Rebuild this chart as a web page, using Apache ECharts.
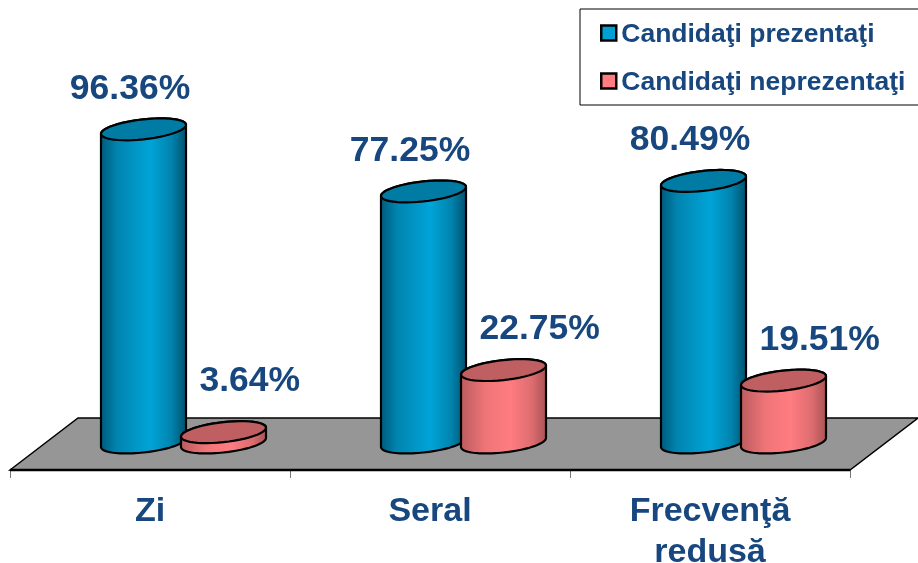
<!DOCTYPE html>
<html><head><meta charset="utf-8">
<style>html,body{margin:0;padding:0;background:#fff}#c{width:918px;height:563px}</style>
<script src="https://cdn.jsdelivr.net/npm/echarts@6/dist/echarts.min.js"></script>
</head><body><div id="c"></div>
<script>
const categories = ['Zi', 'Seral', 'Frecvenţă\nredusă'];
const prezentati = [96.36, 77.25, 80.49];
const neprezentati = [3.64, 22.75, 19.51];
const seriesNames = ['Candidaţi prezentaţi', 'Candidaţi neprezentaţi'];

const FONT = '"Liberation Sans", Arial, sans-serif';
const TEXT = '#17477e';
const A = 42.5, B = 10, K = 4.5;

function ellipsePts(cx, cy, from, to) {
  const pts = [], n = 48;
  for (let i = 0; i <= n; i++) {
    const t = from + (to - from) * i / n;
    pts.push([cx + A * Math.cos(t), cy + B * Math.sin(t) - K * Math.cos(t)]);
  }
  return pts;
}
function grad(stops) {
  return new echarts.graphic.LinearGradient(0, 0, 1, 0, stops);
}
function cylinder(offset, lift, palette, labelFn) {
  return function (params, api) {
    const idx = api.value(0), v = api.value(1);
    const top = api.coord([idx, v]), base = api.coord([idx, 0]);
    const cx = top[0] + offset;
    const yTop = top[1] + lift;
    const cyT = yTop - K, cyB = base[1] - K;
    const body = ellipsePts(cx, cyB, 0, Math.PI).concat(ellipsePts(cx, cyT, Math.PI, 2 * Math.PI));
    const lab = labelFn(cx, yTop, v);
    return {
      type: 'group',
      children: [
        { type: 'polygon', shape: { points: body },
          style: { fill: grad(palette.body), stroke: '#000', lineWidth: 2.2 } },
        { type: 'polygon', shape: { points: ellipsePts(cx, cyT, 0, 2 * Math.PI) },
          style: { fill: palette.top, stroke: '#000', lineWidth: 2.2 } },
        { type: 'text', style: {
            x: lab.x, y: lab.y, text: v.toFixed(2) + '%', align: lab.align, verticalAlign: 'middle',
            font: 'bold 35.5px ' + FONT, fill: TEXT } }
      ]
    };
  };
}
const bluePal = { top: '#007ba4', body: [
  { offset: 0, color: '#00597a' }, { offset: 0.2, color: '#0085b0' },
  { offset: 0.58, color: '#00a4d8' }, { offset: 0.82, color: '#0083ad' }, { offset: 1, color: '#004f6a' }] };
const pinkPal = { top: '#c05f62', body: [
  { offset: 0, color: '#b95b5d' }, { offset: 0.3, color: '#f07578' },
  { offset: 0.58, color: '#ff7c80' }, { offset: 0.82, color: '#de6d70' }, { offset: 1, color: '#a85254' }] };

const chart = echarts.init(document.getElementById('c'), null, { renderer: 'canvas' });
chart.setOption({
  animation: false,
  backgroundColor: '#fff',
  grid: { left: 10, width: 840, top: 122, height: 325, outerBoundsMode: 'none' },
  legend: {
    left: 580, top: 9, orient: 'vertical',
    data: seriesNames,
    backgroundColor: '#fff', borderColor: '#000', borderWidth: 1,
    padding: [9, 40, 9, 20],
    itemWidth: 15, itemHeight: 15, itemGap: 18, icon: 'rect',
    itemStyle: { borderColor: '#000', borderWidth: 2.5 },
    formatter: '{a|{name}}',
    textStyle: { rich: { a: { fontFamily: FONT, fontWeight: 'bold', fontSize: 26.5, color: TEXT, lineHeight: 28, padding: [3, 0, 0, 0] } } }
  },
  xAxis: {
    type: 'category', data: categories, offset: 23,
    axisLine: { show: true, onZero: false, lineStyle: { color: '#000', width: 1 } },
    axisTick: { show: true, length: 8, lineStyle: { color: '#777', width: 1 } },
    axisLabel: { fontFamily: FONT, fontWeight: 'bold', fontSize: 34, color: TEXT, lineHeight: 41, margin: 21, interval: 0 }
  },
  yAxis: { type: 'value', min: 0, max: 100, show: false },
  series: [
    { type: 'custom', name: 'floor', silent: true, z: 1, data: [[0, 0]], encode: { x: 0, y: 1 },
      renderItem: function (params, api) {
        const band = api.size([1, 0])[0];
        const o = api.coord([0, 0]);
        const l = o[0] - band / 2, y0 = o[1];
        const w = band * 3;
        return { type: 'group', children: [
          { type: 'polygon', shape: { points: [[l, y0 + 23], [l + 68, y0 - 29], [l + 908, y0 - 29], [l + w, y0 + 23]] },
            style: { fill: '#969696', stroke: '#000', lineWidth: 1.5 } },
          { type: 'line', shape: { x1: l, y1: y0 + 23, x2: l + w, y2: y0 + 23 },
            style: { stroke: '#000', lineWidth: 2.5 } }
        ] };
      } },
    { type: 'custom', name: seriesNames[0], z: 2, itemStyle: { color: '#00a0d4' },
      data: prezentati.map((v, i) => [i, v]), encode: { x: 0, y: 1 },
      renderItem: cylinder(-6.5, 0, bluePal, (cx, y) => ({ x: cx - 13.5, y: y - 45, align: 'center' })) },
    { type: 'custom', name: seriesNames[1], z: 3, itemStyle: { color: '#ff7c80' },
      data: neprezentati.map((v, i) => [i, v]), encode: { x: 0, y: 1 },
      renderItem: cylinder(73.5, 1.5, pinkPal, (cx, y, v) => ({ x: cx - 24, y: y - (v < 10 ? 55 : 45), align: 'left' })) }
  ]
});
</script></body></html>
